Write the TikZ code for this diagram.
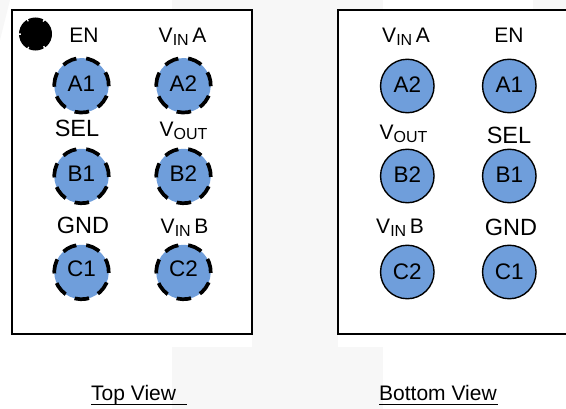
\documentclass[tikz,border=0pt]{standalone}
\usepackage{fontspec}
\setmainfont{Liberation Sans}
\definecolor{pinblue}{HTML}{6F9EDB}
\definecolor{bggray}{HTML}{F7F7F7}
\tikzset{
  x=1pt,y=-1pt,
  pkg/.style={draw=black,line width=1.6pt,fill=white,minimum width=#1,minimum height=324pt,inner sep=0pt},
  pinbase/.style={circle,inner sep=0pt,fill=pinblue,font=\fontsize{22.5}{22.5}\selectfont},
  toppin/.style={pinbase,minimum size=54.5pt,draw=black,line width=3.7pt,dash pattern=on 14.5pt off 9.96pt,rotate=-2},
  botpin/.style={pinbase,minimum size=53.5pt,draw=black,line width=1.4pt},
  lbl/.style={inner sep=0pt,font=\fontsize{21}{21}\selectfont,anchor=base},
  lblb/.style={lbl,font=\fontsize{23.5}{23.5}\selectfont},
  dotmark/.style={circle,minimum size=29pt,inner sep=0pt,fill=black,draw=black,line width=4pt,dash pattern=on 14pt off 1.5pt}
}
\newcommand{\sbs}[1]{\raisebox{-2.5pt}{\fontsize{16}{16}\selectfont #1}}
\newcommand{\ulw}[2]{\rlap{\raisebox{-4.2pt}{\rule{#1}{1.6pt}}}#2}
\newcommand{\tpt}[2]{\rotatebox{2}{\raisebox{#1}{#2}}}
\begin{document}
\begin{tikzpicture}
\useasboundingbox (0,0) rectangle (566,409);
\fill[white] (0,0) rectangle (566,409);
\fill[bggray] (0,0) -- (10,0) -- (0,40) -- cycle;
\fill[bggray] (172,0) rectangle (383,12);
\fill[bggray] (252,0) rectangle (338,409);
\fill[bggray] (172,347) rectangle (383,409);
\fill[bggray] (533,0) rectangle (566,9);
% packages
\node[pkg=240pt] (top) at (132,172) {};
\node[pkg=240pt] (bot) at (458,172) {};
% top view pins
\node[toppin] (tA1) at (81.5,85.3) {\tpt{3pt}{A1}};
\node[toppin] (tA2) at (183.5,85.3) {\tpt{3pt}{A2}};
\node[toppin] (tB1) at (81.5,176) {\tpt{5pt}{B1}};
\node[toppin] (tB2) at (183.5,176) {\tpt{5pt}{B2}};
\node[toppin] (tC1) at (81.5,272) {\tpt{6pt}{C1}};
\node[toppin] (tC2) at (183.5,272) {\tpt{6pt}{C2}};
\node[dotmark] (dot) at (35.5,34) {};
% top view labels
\node[lbl] (tEN) at (84,43) {EN};
\node[lbl] (tVA) at (182.5,43) {V\sbs{IN}\,A};
\node[lblb] (tSEL) at (77,137) {SEL};
\node[lbl] (tVO) at (183.5,137) {V\sbs{OUT}};
\node[lblb] (tGND) at (83,234) {GND};
\node[lbl] (tVB) at (184.5,234) {V\sbs{IN}\,B};
% bottom view pins
\node[botpin] (bA2) at (407.3,86) {\raisebox{2pt}{A2}};
\node[botpin] (bA1) at (509.3,86) {\raisebox{2pt}{A1}};
\node[botpin] (bB2) at (407.3,176) {\raisebox{2pt}{B2}};
\node[botpin] (bB1) at (509.3,176) {\raisebox{2pt}{B1}};
\node[botpin] (bC2) at (407.3,272) {\raisebox{1.5pt}{C2}};
\node[botpin] (bC1) at (509.3,272) {\raisebox{1.5pt}{C1}};
% bottom view labels
\node[lbl] (bVA) at (406,43) {V\sbs{IN}\,A};
\node[lbl] (bEN) at (509,43) {EN};
\node[lbl] (bVO) at (403.5,140) {V\sbs{OUT}};
\node[lblb] (bSEL) at (509,144) {SEL};
\node[lbl] (bVB) at (400,234) {V\sbs{IN}\,B};
\node[lblb] (bGND) at (511,236) {GND};
% captions
\node[lbl,anchor=base west] (topcap) at (91,401) {\ulw{96pt}{Top View}};
\node[lbl,anchor=base west] (botcap) at (379,401) {\ulw{119pt}{Bottom View}};
\end{tikzpicture}
\end{document}
